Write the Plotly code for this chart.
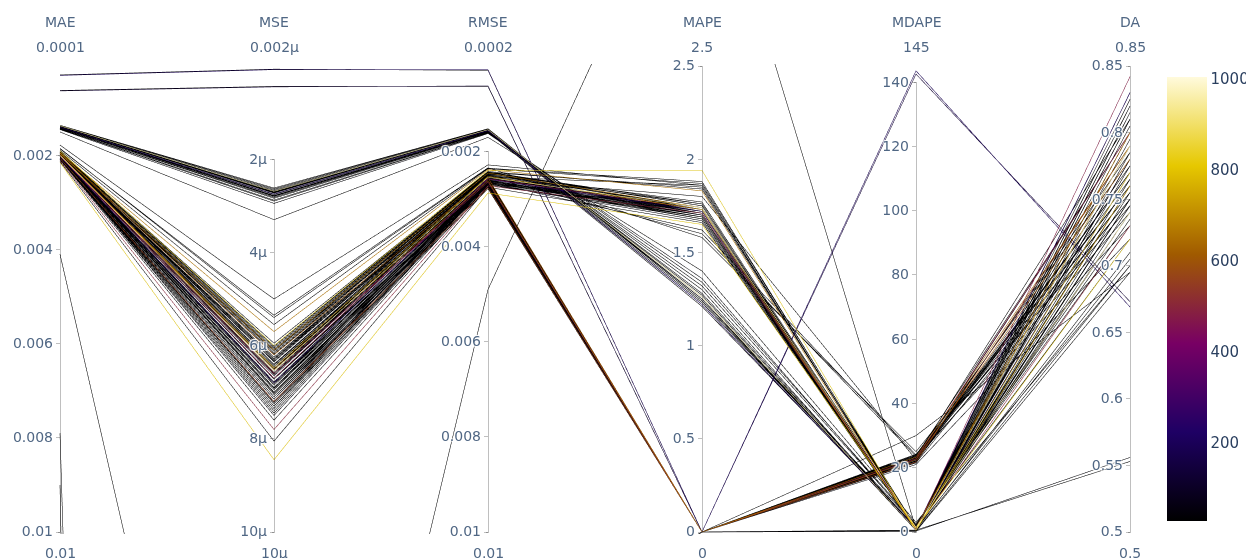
import plotly.graph_objects as go

# ---- data (one entry per model run, same order in every list) ----
mae = [
    0.00030, 0.00063, 0.00029, 0.00062,
    0.0041, 0.0079, 0.0090,
    0.00136, 0.00137, 0.00138, 0.00138, 0.00139, 0.00140, 0.00140, 0.00141, 0.00142, 0.00143, 0.00145, 0.00150,
    0.00136, 0.00137, 0.00139, 0.00140, 0.00141, 0.00142, 0.00144, 0.00138,
    0.00178, 0.00185, 0.00190, 0.00192, 0.00193, 0.00194, 0.00195, 0.00196, 0.00196, 0.00197, 0.00197, 0.00198,
    0.00198, 0.00199, 0.00199, 0.00200, 0.00200, 0.00201, 0.00201, 0.00202, 0.00203, 0.00203, 0.00204, 0.00205,
    0.00205, 0.00206, 0.00207, 0.00208, 0.00209, 0.00211, 0.00213, 0.00215, 0.00194, 0.00189, 0.00200, 0.00186,
    0.00193, 0.00194, 0.00195, 0.00196, 0.00197, 0.00198, 0.00199, 0.00200, 0.00201, 0.00202, 0.00203, 0.00204,
    0.00205, 0.00206, 0.00207, 0.00208, 0.00195, 0.00199, 0.00202, 0.00206,
    0.00196, 0.00197, 0.00198, 0.00199, 0.00200, 0.00201, 0.00202, 0.00203, 0.00204, 0.00205, 0.00206, 0.00207,
    0.00198, 0.00200, 0.00203, 0.00205, 0.00199,
    0.00197, 0.00199, 0.00201, 0.00203, 0.00204, 0.00206, 0.00200, 0.00202,
]
mse = [
    0.08e-6, 0.45e-6, 0.07e-6, 0.44e-6,
    24e-6, 160e-6, 240e-6,
    2.62e-6, 2.66e-6, 2.68e-6, 2.70e-6, 2.72e-6, 2.75e-6, 2.78e-6, 2.80e-6, 2.84e-6, 2.88e-6, 2.95e-6, 3.30e-6,
    2.64e-6, 2.69e-6, 2.73e-6, 2.76e-6, 2.79e-6, 2.82e-6, 2.90e-6, 2.71e-6,
    5.00e-6, 5.40e-6, 6.00e-6, 5.95e-6, 6.00e-6, 6.05e-6, 6.10e-6, 6.15e-6, 6.20e-6, 6.25e-6, 6.30e-6, 6.35e-6,
    6.40e-6, 6.45e-6, 6.50e-6, 6.55e-6, 6.60e-6, 6.65e-6, 6.70e-6, 6.80e-6, 6.90e-6, 7.00e-6, 7.05e-6, 7.10e-6,
    7.20e-6, 7.30e-6, 7.40e-6, 7.50e-6, 7.60e-6, 7.80e-6, 8.05e-6, 8.45e-6, 5.70e-6, 5.55e-6, 6.58e-6, 5.35e-6,
    6.02e-6, 6.12e-6, 6.18e-6, 6.28e-6, 6.33e-6, 6.42e-6, 6.48e-6, 6.62e-6, 6.72e-6, 6.85e-6, 6.95e-6, 7.02e-6,
    7.15e-6, 7.25e-6, 7.35e-6, 7.45e-6, 6.08e-6, 6.52e-6, 6.78e-6, 7.22e-6,
    6.20e-6, 6.30e-6, 6.40e-6, 6.50e-6, 6.60e-6, 6.70e-6, 6.80e-6, 6.90e-6, 7.00e-6, 7.10e-6, 7.20e-6, 7.30e-6,
    6.10e-6, 6.45e-6, 6.85e-6, 7.15e-6, 6.55e-6,
    6.25e-6, 6.52e-6, 6.72e-6, 6.92e-6, 7.05e-6, 7.25e-6, 6.62e-6, 6.82e-6,
]
rmse = [
    0.00028, 0.00062, 0.00029, 0.00063,
    0.0049, 0.0125, 0.0130,
    0.00152, 0.00153, 0.00154, 0.00155, 0.00155, 0.00156, 0.00157, 0.00158, 0.00159, 0.00160, 0.00162, 0.00170,
    0.00152, 0.00154, 0.00155, 0.00156, 0.00157, 0.00158, 0.00161, 0.00154,
    0.00228, 0.00235, 0.00240, 0.00242, 0.00243, 0.00244, 0.00245, 0.00246, 0.00247, 0.00248, 0.00249, 0.00250,
    0.00251, 0.00252, 0.00253, 0.00254, 0.00255, 0.00256, 0.00257, 0.00258, 0.00259, 0.00260, 0.00261, 0.00262,
    0.00263, 0.00265, 0.00266, 0.00268, 0.00270, 0.00272, 0.00275, 0.00287, 0.00238, 0.00236, 0.00253, 0.00234,
    0.00243, 0.00245, 0.00246, 0.00248, 0.00249, 0.00251, 0.00252, 0.00255, 0.00257, 0.00258, 0.00260, 0.00261,
    0.00262, 0.00264, 0.00266, 0.00267, 0.00244, 0.00253, 0.00258, 0.00264,
    0.00255, 0.00258, 0.00260, 0.00262, 0.00264, 0.00266, 0.00268, 0.00270, 0.00272, 0.00274, 0.00276, 0.00278,
    0.00257, 0.00261, 0.00267, 0.00271, 0.00263,
    0.00256, 0.00261, 0.00265, 0.00269, 0.00271, 0.00275, 0.00263, 0.00267,
]
mape = [
    0.0, 0.0, 0.0, 0.0,
    3.8, 0.0, 0.0,
    1.25, 1.24, 1.26, 1.23, 1.27, 1.22, 1.25, 1.30, 1.21, 1.34, 1.36, 1.40,
    1.24, 1.26, 1.23, 1.25, 1.28, 1.22, 1.32, 1.26,
    1.86, 1.88, 1.94, 1.84, 1.76, 1.75, 1.74, 1.73, 1.77, 1.72, 1.74, 1.71,
    1.73, 1.70, 1.72, 1.74, 1.71, 1.70, 1.73, 1.72, 1.69, 1.71, 1.70, 1.68,
    1.72, 1.69, 1.70, 1.67, 1.69, 1.71, 1.66, 1.65, 1.83, 1.87, 1.60, 1.58,
    1.75, 1.73, 1.74, 1.72, 1.76, 1.71, 1.73, 1.72, 1.70, 1.74, 1.71, 1.69,
    1.73, 1.70, 1.72, 1.68, 1.85, 1.86, 1.80, 1.62,
    0.0, 0.0, 0.0, 0.0, 0.0, 0.0, 0.0, 0.0, 0.0, 0.0, 0.0, 0.0,
    0.0, 0.0, 0.0, 0.0, 0.0,
    0.0, 0.0, 0.0, 0.0, 0.0, 0.0, 0.0, 0.0,
]
mdape = [
    143.5, 142.5, 0.3, 0.6,
    1.0, 0.4, 0.2,
    0.8, 1.2, 0.5, 1.5, 0.9, 1.1, 2.0, 0.6, 1.3, 2.5, 1.8, 3.0,
    1.0, 0.7, 1.4, 0.5, 1.2, 0.9, 2.2, 0.6,
    0.8, 1.0, 0.5, 1.2, 0.7, 0.9, 1.5, 0.6, 1.1, 0.8, 1.3, 0.4,
    1.0, 0.9, 0.7, 1.4, 0.5, 1.1, 0.8, 1.2, 0.6, 1.0, 0.9, 0.7,
    1.3, 0.5, 1.1, 0.8, 1.0, 0.9, 0.7, 1.2, 0.6, 1.4, 23.5, 25.0,
    0.9, 1.1, 0.6, 1.3, 0.8, 1.0, 0.5, 1.2, 0.7, 1.4, 0.9, 0.6,
    1.1, 0.8, 1.0, 0.7, 1.2, 0.5, 22.5, 24.0,
    22.5, 23.0, 22.0, 23.5, 22.8, 21.5, 24.0, 22.2, 23.2, 22.6, 21.8, 23.8,
    22.4, 23.4, 22.9, 30.0, 21.0,
    22.7, 23.3, 22.1, 23.7, 22.5, 23.0, 21.7, 24.2,
]
da = [
    0.669, 0.673, 0.556, 0.553,
    0.705, 0.700, 0.695,
    0.78, 0.77, 0.76, 0.79, 0.75, 0.77, 0.74, 0.78, 0.76, 0.73, 0.72, 0.70,
    0.77, 0.79, 0.75, 0.78, 0.76, 0.80, 0.735, 0.765,
    0.80, 0.79, 0.77, 0.81, 0.82, 0.80, 0.79, 0.78, 0.83, 0.77, 0.815, 0.76,
    0.805, 0.75, 0.82, 0.74, 0.79, 0.78, 0.842, 0.83, 0.77, 0.76, 0.80, 0.745,
    0.81, 0.75, 0.78, 0.74, 0.79, 0.73, 0.71, 0.72, 0.80, 0.78, 0.755, 0.76,
    0.79, 0.81, 0.77, 0.82, 0.78, 0.80, 0.76, 0.825, 0.79, 0.775, 0.81, 0.765,
    0.795, 0.83, 0.755, 0.785, 0.80, 0.815, 0.77, 0.745,
    0.78, 0.77, 0.79, 0.76, 0.80, 0.75, 0.78, 0.77, 0.81, 0.74, 0.79, 0.76,
    0.80, 0.73, 0.75, 0.695, 0.72,
    0.775, 0.79, 0.765, 0.80, 0.755, 0.785, 0.77, 0.745,
]
color_value = [
    190, 130, 40, 30,
    28, 35, 28,
    28, 28, 35, 28, 28, 200, 50, 30, 28, 28, 40, 28,
    28, 960, 40, 28, 28, 30, 28, 28,
    28, 30, 840, 40, 28, 28, 650, 30, 28, 28, 35, 45,
    28, 28, 35, 960, 28, 60, 480, 210, 28, 28, 30, 28,
    40, 28, 28, 50, 28, 500, 28, 820, 660, 28, 28, 30,
    28, 35, 28, 28, 28, 45, 720, 28, 30, 28, 28, 28,
    50, 28, 28, 28, 28, 28, 28, 40,
    600, 28, 28, 30, 480, 28, 28, 40, 28, 28, 560, 28,
    35, 28, 28, 28, 45,
    28, 620, 28, 28, 28, 28, 30, 28,
]

dim_labels = ["MAE", "MSE", "RMSE", "MAPE", "MDAPE", "DA"]
dim_ranges = [[0.01, 0.0001], [1e-5, 2e-9], [0.01, 0.0002], [0, 2.5], [0, 145], [0.5, 0.85]]
dim_values = [mae, mse, rmse, mape, mdape, da]
dim_tickvals = [
    [0.002, 0.004, 0.006, 0.008, 0.01],
    [2e-6, 4e-6, 6e-6, 8e-6, 10e-6],
    [0.002, 0.004, 0.006, 0.008, 0.01],
    [0, 0.5, 1, 1.5, 2, 2.5],
    [0, 20, 40, 60, 80, 100, 120, 140],
    [0.5, 0.55, 0.6, 0.65, 0.7, 0.75, 0.8, 0.85],
]
dim_ticktext = [
    ["0.002", "0.004", "0.006", "0.008", "0.01"],
    ["2µ", "4µ", "6µ", "8µ", "10µ"],
    ["0.002", "0.004", "0.006", "0.008", "0.01"],
    ["0", "0.5", "1", "1.5", "2", "2.5"],
    ["0", "20", "40", "60", "80", "100", "120", "140"],
    ["0.5", "0.55", "0.6", "0.65", "0.7", "0.75", "0.8", "0.85"],
]
range_top_text = ["0.0001", "0.002µ", "0.0002", "2.5", "145", "0.85"]
range_bottom_text = ["0.01", "10µ", "0.01", "0", "0", "0.5"]

FONT = "Verdana, DejaVu Sans, sans-serif"
TXT = "#506784"

fig = go.Figure(
    go.Parcoords(
        line=dict(
            color=color_value,
            colorscale="Electric",
            cmin=28,
            cmax=1004,
            showscale=True,
            colorbar=dict(
                thickness=40,
                x=1.025,
                y=0.5,
                lenmode="pixels",
                len=464,
                tick0=0,
                dtick=200,
                outlinewidth=0,
                tickfont=dict(family=FONT, size=15, color="#2a3f5f"),
            ),
        ),
        dimensions=[
            dict(label="", values=v, range=r, tickvals=tv, ticktext=tt)
            for v, r, tv, tt in zip(dim_values, dim_ranges, dim_tickvals, dim_ticktext)
        ],
        tickfont=dict(family=FONT, size=14, color=TXT),
        rangefont=dict(family=FONT, size=14, color=TXT),
        labelfont=dict(family=FONT, size=14, color=TXT),
    )
)

n = len(dim_labels)
for i in range(n):
    xpos = i / (n - 1)
    fig.add_annotation(
        x=xpos, y=1, xref="paper", yref="paper", text=dim_labels[i],
        showarrow=False, yanchor="middle", xanchor="center", yshift=42,
        font=dict(family=FONT, size=14, color=TXT),
    )
    fig.add_annotation(
        x=xpos, y=1, xref="paper", yref="paper", text=range_top_text[i],
        showarrow=False, yanchor="middle", xanchor="center", yshift=17,
        font=dict(family=FONT, size=14, color=TXT),
    )
    fig.add_annotation(
        x=xpos, y=0, xref="paper", yref="paper", text=range_bottom_text[i],
        showarrow=False, yanchor="middle", xanchor="center", yshift=-19,
        font=dict(family=FONT, size=14, color=TXT),
    )

fig.update_layout(
    width=1254,
    height=558,
    margin=dict(l=52, r=132, t=56, b=32, autoexpand=False),
    paper_bgcolor="white",
    plot_bgcolor="white",
    font=dict(family=FONT),
)
fig.write_html("out.html")
